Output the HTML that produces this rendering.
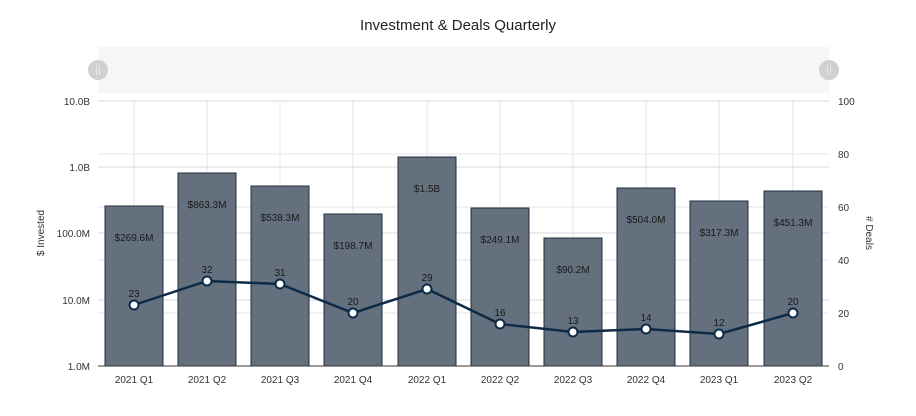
<!DOCTYPE html>
<html><head><meta charset="utf-8"><style>
body{margin:0;background:#fff;}
text{font-family:"Liberation Sans",sans-serif;}
</style></head><body>
<svg width="916" height="411" xmlns="http://www.w3.org/2000/svg">
<text x="458" y="30" font-size="15" text-anchor="middle" fill="#222">Investment &amp; Deals Quarterly</text>
<rect x="98" y="47" width="731" height="46" fill="#f6f6f6"/>
<circle cx="98" cy="70" r="10" fill="#d0d0d0"/><line x1="96.5" y1="65" x2="96.5" y2="75" stroke="#e8e8e8"/><line x1="99.5" y1="65" x2="99.5" y2="75" stroke="#e8e8e8"/>
<circle cx="829" cy="70" r="10" fill="#d0d0d0"/><line x1="827.5" y1="65" x2="827.5" y2="75" stroke="#e8e8e8"/><line x1="830.5" y1="65" x2="830.5" y2="75" stroke="#e8e8e8"/>
<g stroke="#e6e6e6" stroke-width="1">
<line x1="98" y1="154" x2="829" y2="154"/><line x1="98" y1="207" x2="829" y2="207"/><line x1="98" y1="260" x2="829" y2="260"/><line x1="98" y1="313" x2="829" y2="313"/>
<line x1="134" y1="101" x2="134" y2="366"/><line x1="207" y1="101" x2="207" y2="366"/><line x1="280" y1="101" x2="280" y2="366"/><line x1="353" y1="101" x2="353" y2="366"/><line x1="427" y1="101" x2="427" y2="366"/><line x1="500" y1="101" x2="500" y2="366"/><line x1="573" y1="101" x2="573" y2="366"/><line x1="646" y1="101" x2="646" y2="366"/><line x1="719" y1="101" x2="719" y2="366"/><line x1="793" y1="101" x2="793" y2="366"/>
</g>
<g stroke="#d8d8d8" stroke-width="1">
<line x1="98" y1="101" x2="829" y2="101"/><line x1="98" y1="167" x2="829" y2="167"/><line x1="98" y1="233" x2="829" y2="233"/><line x1="98" y1="300" x2="829" y2="300"/>
</g>
<g font-size="10" fill="#333" text-anchor="end">
<text x="90" y="105">10.0B</text><text x="90" y="171">1.0B</text><text x="90" y="237">100.0M</text><text x="90" y="304">10.0M</text><text x="90" y="370">1.0M</text>
</g>
<g font-size="10" fill="#333">
<text x="838" y="105">100</text><text x="838" y="158">80</text><text x="838" y="211">60</text><text x="838" y="264">40</text><text x="838" y="317">20</text><text x="838" y="370">0</text>
</g>
<text font-size="10" fill="#333" transform="translate(44,233) rotate(-90)" text-anchor="middle">$ Invested</text>
<text font-size="10" fill="#333" transform="translate(866,233) rotate(90)" text-anchor="middle"># Deals</text>
<g fill="#64707d" stroke="#1f2d3d" stroke-width="1">
<rect x="105" y="206" width="58" height="160"/>
<rect x="178" y="173" width="58" height="193"/>
<rect x="251" y="186" width="58" height="180"/>
<rect x="324" y="214" width="58" height="152"/>
<rect x="398" y="157" width="58" height="209"/>
<rect x="471" y="208" width="58" height="158"/>
<rect x="544" y="238" width="58" height="128"/>
<rect x="617" y="188" width="58" height="178"/>
<rect x="690" y="201" width="58" height="165"/>
<rect x="764" y="191" width="58" height="175"/>
</g>
<line x1="98" y1="366" x2="829" y2="366" stroke="#333"/>
<g font-size="10" fill="#1a1a1a" text-anchor="middle">
<text x="134" y="241">$269.6M</text><text x="207" y="208">$863.3M</text><text x="280" y="221">$538.3M</text><text x="353" y="249">$198.7M</text><text x="427" y="192">$1.5B</text><text x="500" y="243">$249.1M</text><text x="573" y="273">$90.2M</text><text x="646" y="223">$504.0M</text><text x="719" y="236">$317.3M</text><text x="793" y="226">$451.3M</text>
</g>
<polyline fill="none" stroke="#0d2a47" stroke-width="2.5" points="134,305 207,281 280,284 353,313 427,289 500,324 573,332 646,329 719,334 793,313"/>
<g fill="#fff" stroke="#0d2a47" stroke-width="2">
<circle cx="134" cy="305" r="4.5"/><circle cx="207" cy="281" r="4.5"/><circle cx="280" cy="284" r="4.5"/><circle cx="353" cy="313" r="4.5"/><circle cx="427" cy="289" r="4.5"/><circle cx="500" cy="324" r="4.5"/><circle cx="573" cy="332" r="4.5"/><circle cx="646" cy="329" r="4.5"/><circle cx="719" cy="334" r="4.5"/><circle cx="793" cy="313" r="4.5"/>
</g>
<g font-size="10" fill="#1a1a1a" text-anchor="middle">
<text x="134" y="297">23</text><text x="207" y="273">32</text><text x="280" y="276">31</text><text x="353" y="305">20</text><text x="427" y="281">29</text><text x="500" y="316">16</text><text x="573" y="324">13</text><text x="646" y="321">14</text><text x="719" y="326">12</text><text x="793" y="305">20</text>
</g>
<g font-size="10" fill="#333" text-anchor="middle">
<text x="134" y="383">2021 Q1</text><text x="207" y="383">2021 Q2</text><text x="280" y="383">2021 Q3</text><text x="353" y="383">2021 Q4</text><text x="427" y="383">2022 Q1</text><text x="500" y="383">2022 Q2</text><text x="573" y="383">2022 Q3</text><text x="646" y="383">2022 Q4</text><text x="719" y="383">2023 Q1</text><text x="793" y="383">2023 Q2</text>
</g>
</svg>
</body></html>
